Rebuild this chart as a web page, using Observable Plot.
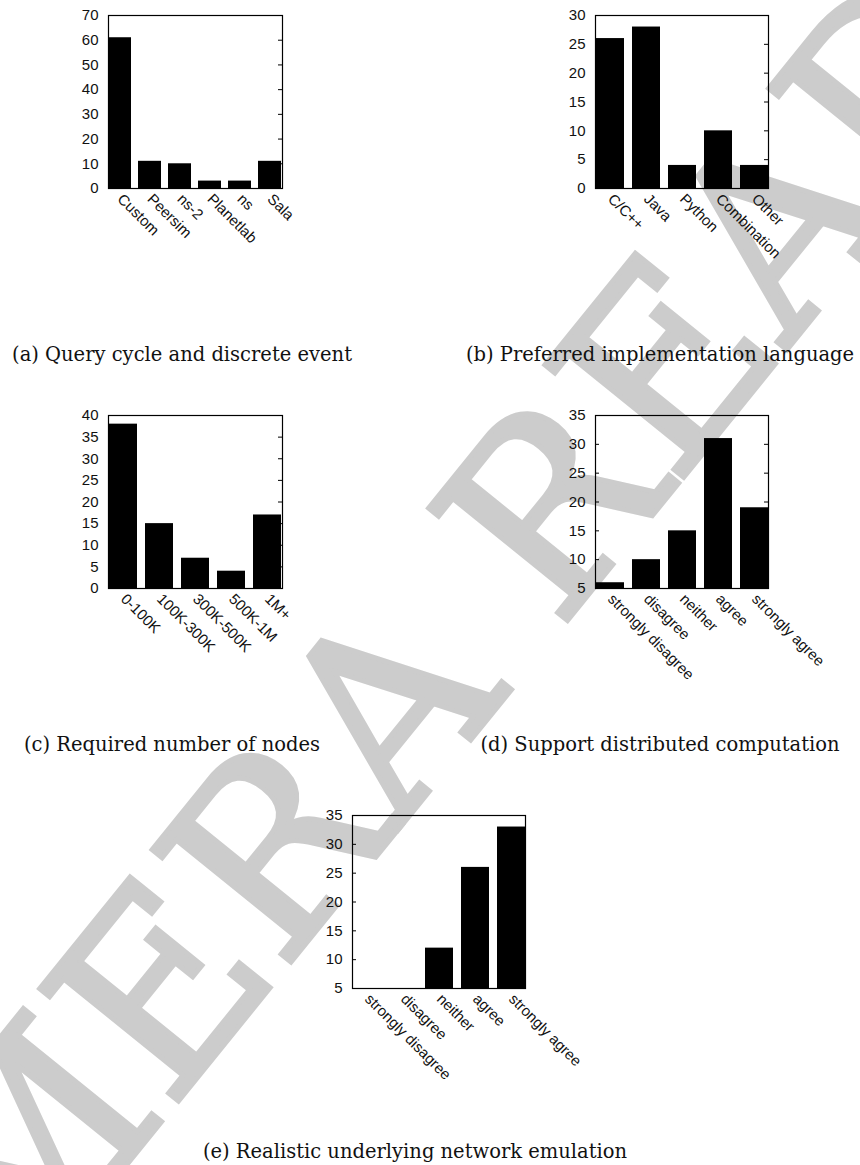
<!DOCTYPE html>
<html><head><meta charset="utf-8">
<script src="https://cdn.jsdelivr.net/npm/d3@7"></script>
<script src="https://cdn.jsdelivr.net/npm/@observablehq/plot@0.6"></script>
<style>
html,body{margin:0;padding:0;background:#fff;}
#page{position:relative;width:860px;height:1165px;overflow:hidden;background:#fff;}
.wm{position:absolute;left:0;top:0;font-family:"DejaVu Serif",serif;font-size:245px;color:#cccccc;-webkit-text-stroke:5px #cccccc;white-space:nowrap;transform-origin:0 0;line-height:1;}
.fig{position:absolute;}
.fig svg{overflow:visible;background:transparent;}
.cap{position:absolute;font-family:"DejaVu Serif",serif;font-size:19.5px;color:#111;white-space:nowrap;line-height:19.5px;}
</style></head>
<body><div id="page"></div>
<script>
// (a) Query cycle and discrete event
const catsA = ["Custom","Peersim","ns-2","Planetlab","ns","Sala"];
const valsA = [61,11,10,3,3,11];
const ticksA = [0,10,20,30,40,50,60,70];
// (b) Preferred implementation language
const catsB = ["C/C++","Java","Python","Combination","Other"];
const valsB = [26,28,4,10,4];
const ticksB = [0,5,10,15,20,25,30];
// (c) Required number of nodes
const catsC = ["0-100K","100K-300K","300K-500K","500K-1M","1M+"];
const valsC = [38,15,7,4,17];
const ticksC = [0,5,10,15,20,25,30,35,40];
// (d) Support distributed computation
const catsD = ["strongly disagree","disagree","neither","agree","strongly agree"];
const valsD = [6,10,15,31,19];
const ticksD = [5,10,15,20,25,30,35];
// (e) Realistic underlying network emulation
const catsE = ["strongly disagree","disagree","neither","agree","strongly agree"];
const valsE = [5,5,12,26,33];
const ticksE = [5,10,15,20,25,30,35];

const captions = [
  "(a) Query cycle and discrete event",
  "(b) Preferred implementation language",
  "(c) Required number of nodes",
  "(d) Support distributed computation",
  "(e) Realistic underlying network emulation"
];
const watermark = "CAMERA READY";

const page = document.getElementById("page");

// watermark (behind the charts)
const wm = document.createElement("div");
wm.className = "wm";
wm.textContent = watermark;
wm.style.transform = "translate(388px,708px) rotate(-51deg) translate(-50%,-50%)";
page.appendChild(wm);

function chart(cats, vals, ticks, fw) {
  const y0 = ticks[0], y1 = ticks[ticks.length - 1];
  const data = cats.map((c, i) => ({c, v: vals[i]}));
  const fh = 173, ML = 100, MT = 15, MR = 20, MB = 150;
  return Plot.plot({
    width: ML + fw + MR, height: MT + fh + MB,
    marginLeft: ML, marginRight: MR, marginTop: MT, marginBottom: MB,
    style: {fontFamily: "'Liberation Sans', Arial, sans-serif", fontSize: "15px", color: "#000", background: "transparent", overflow: "visible"},
    x: {type: "band", domain: cats, paddingInner: 0.23, paddingOuter: 0, align: 0.5, label: null},
    y: {domain: [y0, y1], label: null},
    marks: [
      Plot.tickY(ticks, {y: d => d, insetRight: fw - 4, stroke: "#000"}),
      Plot.tickY(ticks, {y: d => d, insetLeft: fw - 4, stroke: "#000"}),
      Plot.barY(data, {x: "c", y1: y0, y2: "v", fill: "#000"}),
      Plot.axisY({ticks: ticks, tickSize: 0, tickPadding: 10, label: null, fill: "#111"}),
      Plot.axisX({tickSize: 0, tickPadding: 8, tickRotate: 45, label: null, fill: "#111"}),
      Plot.frame({stroke: "#000", strokeWidth: 1.2})
    ]
  });
}

function place(svg, left, top) {
  const d = document.createElement("div");
  d.className = "fig";
  d.style.left = left + "px";
  d.style.top = top + "px";
  d.appendChild(svg);
  page.appendChild(d);
}

place(chart(catsA, valsA, ticksA, 174), 8, 0);
place(chart(catsB, valsB, ticksB, 173), 495, 0);
place(chart(catsC, valsC, ticksC, 174), 8, 400);
place(chart(catsD, valsD, ticksD, 173), 495, 400);
place(chart(catsE, valsE, ticksE, 173), 252, 800);

// caption centres and baselines
const capPos = [[182, 361], [660, 361], [172, 751], [660, 751], [415, 1158]];
captions.forEach((t, i) => {
  const c = document.createElement("div");
  c.className = "cap";
  c.textContent = t;
  c.style.left = capPos[i][0] + "px";
  c.style.top = (capPos[i][1] - 16.5) + "px";
  c.style.transform = "translateX(-50%)";
  page.appendChild(c);
});
</script>
</body></html>
